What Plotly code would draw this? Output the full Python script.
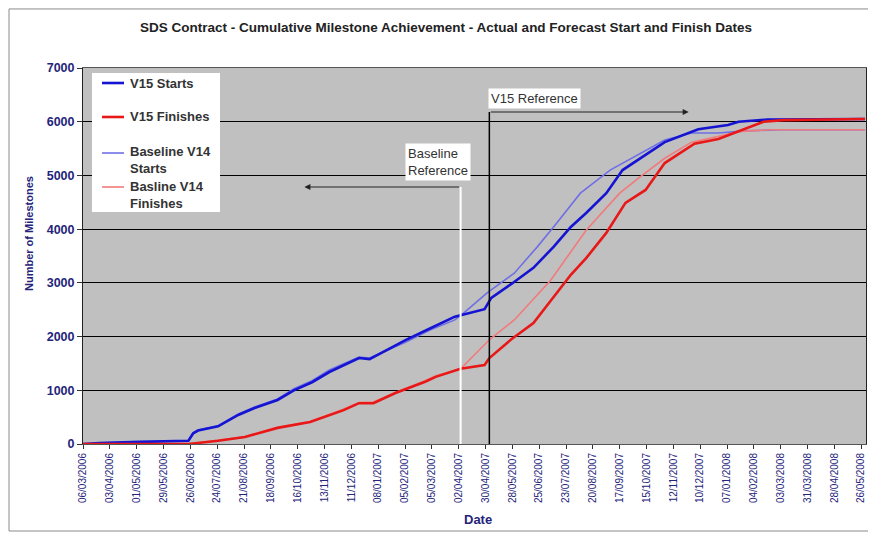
import plotly.graph_objects as go

# ---------------- data ----------------
v15_starts_dates = ["2006-03-06", "2006-03-23", "2006-05-04", "2006-06-24", "2006-06-29", "2006-07-04",
                    "2006-07-25", "2006-08-15", "2006-09-01", "2006-09-25", "2006-10-12", "2006-10-31",
                    "2006-11-18", "2006-12-19", "2006-12-30", "2007-02-06", "2007-03-03", "2007-03-29",
                    "2007-04-29", "2007-05-06", "2007-05-27", "2007-06-19", "2007-07-10", "2007-07-28",
                    "2007-08-13", "2007-09-03", "2007-09-20", "2007-10-03", "2007-11-03", "2007-12-08",
                    "2008-01-08", "2008-01-19", "2008-02-18", "2008-05-30"]
v15_starts = [0, 20, 40, 60, 200, 250,
              330, 540, 670, 820, 1000, 1150,
              1340, 1600, 1580, 1940, 2150, 2370,
              2510, 2720, 2980, 3280, 3670, 4040,
              4300, 4670, 5100, 5250, 5620, 5860,
              5940, 6000, 6040, 6050]

v15_finish_dates = ["2006-03-06", "2006-06-24", "2006-07-25", "2006-08-15", "2006-08-22", "2006-09-25",
                    "2006-10-29", "2006-12-03", "2006-12-19", "2007-01-03", "2007-01-26", "2007-02-26",
                    "2007-03-09", "2007-04-04", "2007-04-29", "2007-05-04", "2007-05-27", "2007-06-19",
                    "2007-07-10", "2007-07-28", "2007-08-13", "2007-09-03", "2007-09-23", "2007-10-14",
                    "2007-11-03", "2007-12-04", "2007-12-29", "2008-01-22", "2008-02-14", "2008-03-06",
                    "2008-05-30"]
v15_finishes = [0, 0, 60, 110, 130, 300,
                410, 630, 760, 760, 950, 1160,
                1250, 1400, 1470, 1600, 1950, 2250,
                2740, 3150, 3460, 3930, 4490, 4730,
                5230, 5590, 5680, 5850, 6000, 6030,
                6050]

v14_starts_dates = ["2006-03-06", "2006-03-23", "2006-05-04", "2006-06-24", "2006-06-29", "2006-07-04",
                    "2006-07-25", "2006-08-15", "2006-09-01", "2006-09-25", "2006-10-12", "2006-10-31",
                    "2006-11-18", "2006-12-19", "2006-12-30", "2007-02-06", "2007-03-03", "2007-03-29",
                    "2007-04-08", "2007-05-02", "2007-05-30", "2007-06-23", "2007-07-10", "2007-08-07",
                    "2007-09-07", "2007-10-08", "2007-11-03", "2007-12-01", "2007-12-29", "2008-01-25",
                    "2008-03-03", "2008-05-30"]
v14_starts = [0, 20, 40, 60, 210, 260,
              340, 560, 690, 840, 1030, 1180,
              1380, 1620, 1600, 1900, 2120, 2310,
              2450, 2820, 3180, 3670, 4040, 4670,
              5100, 5410, 5660, 5790, 5790, 5830,
              5850, 5850]

v14_finish_dates = ["2006-03-06", "2006-06-24", "2006-07-25", "2006-08-15", "2006-08-22", "2006-09-25",
                    "2006-10-29", "2006-12-03", "2006-12-19", "2007-01-03", "2007-01-26", "2007-02-26",
                    "2007-03-09", "2007-04-04", "2007-05-04", "2007-05-30", "2007-07-07", "2007-08-13",
                    "2007-09-17", "2007-10-08", "2007-11-03", "2007-12-01", "2007-12-29", "2008-01-22",
                    "2008-02-22", "2008-05-30"]
v14_finishes = [0, 0, 70, 120, 140, 310,
                420, 650, 770, 780, 960, 1180,
                1270, 1400, 1940, 2310, 3050, 3980,
                4670, 4970, 5320, 5620, 5720, 5820,
                5850, 5850]

series_names = ["V15 Starts", "V15 Finishes", "Baseline V14<br>Starts", "Basline V14<br>Finishes"]
series_colors = ["#1414d2", "#e81818", "#6f6fe6", "#f27a7a"]
series_widths = [2.6, 2.6, 1.6, 1.6]
y_ticks = [0, 1000, 2000, 3000, 4000, 5000, 6000, 7000]

baseline_ref_date = "2007-04-04"
v15_ref_date = "2007-05-04"

# ---------------- figure ----------------
NAVY = "#24247a"
fig = go.Figure()

# thin (baseline) lines first, thick (V15) on top
for dates, vals, i in [(v14_starts_dates, v14_starts, 2), (v14_finish_dates, v14_finishes, 3),
                       (v15_starts_dates, v15_starts, 0), (v15_finish_dates, v15_finishes, 1)]:
    fig.add_trace(go.Scatter(x=dates, y=vals, mode="lines", name=series_names[i].replace("<br>", " "),
                             line=dict(color=series_colors[i], width=series_widths[i]),
                             showlegend=False))

# reference lines
fig.add_shape(type="line", xref="x", yref="y", x0=baseline_ref_date, x1=baseline_ref_date,
              y0=0, y1=4785, line=dict(color="white", width=2), layer="above")
fig.add_shape(type="line", xref="x", yref="y", x0=v15_ref_date, x1=v15_ref_date,
              y0=0, y1=6181, line=dict(color="black", width=1.5), layer="above")

fig.add_annotation(x="2006-10-23", y=4785, ax=baseline_ref_date, ay=4785, axref="x", ayref="y",
                   xref="x", yref="y", text="", showarrow=True, arrowhead=2, arrowsize=1,
                   arrowwidth=1.2, arrowcolor="#222")
fig.add_annotation(x="2007-11-28", y=6181, ax=v15_ref_date, ay=6181, axref="x", ayref="y",
                   xref="x", yref="y", text="", showarrow=True, arrowhead=2, arrowsize=1,
                   arrowwidth=1.2, arrowcolor="#222")

fig.add_annotation(x=v15_ref_date, y=6440, xref="x", yref="y", text="V15 Reference",
                   showarrow=False, xanchor="left", yanchor="middle", bgcolor="white",
                   font=dict(family="Arial", size=13, color="#333"), borderpad=2, xshift=-1)
fig.add_annotation(x="2007-03-09", y=5250, xref="x", yref="y", text="Baseline<br>Reference",
                   showarrow=False, xanchor="center", yanchor="middle", bgcolor="white", align="left",
                   font=dict(family="Arial", size=13, color="#333"), borderpad=2, xshift=2)

# legend box (drawn like the original's boxed legend)
fig.add_shape(type="rect", xref="paper", yref="paper", x0=0.0115, x1=0.175, y0=0.617, y1=0.9867,
              fillcolor="white", line=dict(width=0), layer="above")
legend_line_y = [0.9601, 0.8697, 0.7739, 0.6835]
legend_text_y = [0.9601, 0.8697, 0.754, 0.6622]
for i in range(4):
    fig.add_shape(type="line", xref="paper", yref="paper", x0=0.0243, x1=0.0524,
                  y0=legend_line_y[i], y1=legend_line_y[i],
                  line=dict(color=series_colors[i], width=series_widths[i]), layer="above")
    fig.add_annotation(x=0.0575, y=legend_text_y[i], xref="paper", yref="paper",
                       text="<b>" + series_names[i] + "</b>", showarrow=False, align="left",
                       xanchor="left", yanchor="middle",
                       font=dict(family="Arial", size=13, color="#333"))

# axis titles
fig.add_annotation(x=0.5045, y=-0.202, xref="paper", yref="paper", text="<b>Date</b>",
                   showarrow=False, xanchor="center", yanchor="middle",
                   font=dict(family="Arial", size=13, color=NAVY))
fig.add_annotation(x=-0.069, y=0.561, xref="paper", yref="paper", text="<b>Number of Milestones</b>",
                   showarrow=False, textangle=-90, xanchor="center", yanchor="middle",
                   font=dict(family="Arial", size=11, color=NAVY))

# outer frame
fig.add_shape(type="rect", xref="paper", yref="paper", x0=-0.0945, x1=1.02, y0=-0.2314, y1=1.157,
              line=dict(color="#8a8a8a", width=1), layer="below")

fig.update_layout(
    width=860, height=524,
    margin=dict(l=75, r=2, t=60, b=88, autoexpand=False),
    paper_bgcolor="white", plot_bgcolor="#c0c0c0",
    title=dict(text="<b>SDS Contract - Cumulative Milestone Achievement - Actual and Forecast Start and Finish Dates</b>",
               x=0.5093, xref="container", xanchor="center", y=0.9637, yref="container", yanchor="middle",
               font=dict(family="Arial", size=13.5, color="#222")),
    showlegend=False,
    xaxis=dict(type="date", range=["2006-03-06", "2008-05-31"], automargin=False,
               tick0="2006-03-06", dtick=28 * 86400000, tickformat="%d/%m/%Y",
               tickangle=-90, ticks="outside", ticklen=4, tickcolor="#333",
               ticklabeloverflow="allow",
               tickfont=dict(family="Arial", size=10, color=NAVY),
               showgrid=False, showline=True, linecolor="#555", linewidth=1, mirror=True,
               zeroline=False),
    yaxis=dict(range=[0, 7000], tickvals=y_ticks, ticks="outside", ticklen=5, tickcolor="#333",
               automargin=False,
               tickfont=dict(family="Arial", size=12.5, color=NAVY, weight="bold"),
               showgrid=True, gridcolor="black", gridwidth=1,
               showline=True, linecolor="#222", linewidth=1, mirror=True, zeroline=False),
)

fig.write_html("out.html")
